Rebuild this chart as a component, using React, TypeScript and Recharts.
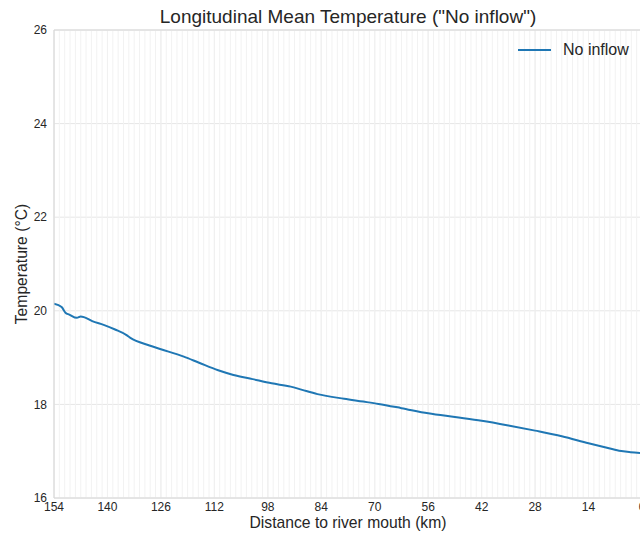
import { LineChart, Line, XAxis, YAxis, CartesianGrid, ReferenceLine } from "recharts";

// Mean temperature along the river, from the upstream end (154 km) to the mouth (0 km)
const distanceKm = [
  154, 152, 151, 150, 148, 147, 146, 144, 141, 138, 135, 134, 129, 126, 120, 116, 111, 107,
  102, 97, 92, 89, 85, 78, 73, 69, 63, 56, 49, 42, 35, 28, 21, 14, 10, 6, 3, 0,
];
const noInflowTemp = [
  20.15, 20.08, 19.96, 19.92, 19.85, 19.88, 19.86, 19.78, 19.7, 19.6, 19.48, 19.42, 19.26,
  19.18, 19.02, 18.89, 18.73, 18.63, 18.54, 18.45, 18.38, 18.31, 18.22, 18.12, 18.06, 18.01,
  17.92, 17.81, 17.73, 17.65, 17.55, 17.44, 17.32, 17.17, 17.09, 17.01, 16.98, 16.96,
];

const xTicks = [154, 140, 126, 112, 98, 84, 70, 56, 42, 28, 14, 0];
const yTicks = [16, 18, 20, 22, 24, 26];
// minor vertical grid, ten per major tick
const xMinor = Array.from({ length: 111 }, (_, i) => +(i * 1.4).toFixed(1));

const data = distanceKm.map((km, i) => ({ km, temp: noInflowTemp[i] }));

const FONT = "'Liberation Sans', Arial, sans-serif";
const TEXT = "#262626";
const LINE = "#1f77b4";

export default function App() {
  return (
    <div
      style={{
        position: "fixed",
        left: 0,
        top: 0,
        width: 640,
        height: 533,
        overflow: "hidden",
        background: "#fff",
        fontFamily: FONT,
        color: TEXT,
      }}
    >
      <LineChart width={700} height={533} data={data} margin={{ top: 30, right: 58, bottom: 0, left: 0 }}>
        {xMinor.map((v) => (
          <ReferenceLine key={v} x={v} stroke="#f2f2f2" strokeWidth={1} ifOverflow="hidden" />
        ))}
        <CartesianGrid stroke="#e6e6e6" strokeWidth={1} />
        <ReferenceLine y={26} stroke="#d6d6d6" strokeWidth={1} />
        <XAxis
          type="number"
          dataKey="km"
          domain={[0, 154]}
          reversed
          ticks={xTicks}
          interval={0}
          allowDataOverflow
          height={35}
          tickLine={false}
          tickSize={0}
          tickMargin={4}
          axisLine={{ stroke: "#d6d6d6" }}
          tick={{ fill: TEXT, fontSize: 12, fontFamily: FONT }}
        />
        <YAxis
          type="number"
          domain={[16, 26]}
          ticks={yTicks}
          interval={0}
          allowDataOverflow
          width={54}
          tickLine={false}
          tickSize={0}
          tickMargin={7}
          axisLine={{ stroke: "#d6d6d6" }}
          tick={{ fill: TEXT, fontSize: 12, fontFamily: FONT }}
        />
        <Line
          type="monotone"
          dataKey="temp"
          stroke={LINE}
          strokeWidth={2}
          dot={false}
          isAnimationActive={false}
        />
      </LineChart>

      <div
        style={{
          position: "absolute",
          left: 54,
          width: 588,
          top: 6,
          textAlign: "center",
          fontSize: 19,
          whiteSpace: "nowrap",
        }}
      >
        Longitudinal Mean Temperature ("No inflow")
      </div>

      <div
        style={{
          position: "absolute",
          left: 54,
          width: 588,
          top: 514,
          textAlign: "center",
          fontSize: 15.7,
          whiteSpace: "nowrap",
        }}
      >
        Distance to river mouth (km)
      </div>

      <div
        style={{
          position: "absolute",
          left: 22,
          top: 264,
          transform: "translate(-50%, -50%) rotate(-90deg)",
          fontSize: 15.7,
          whiteSpace: "nowrap",
        }}
      >
        Temperature (°C)
      </div>

      <div
        style={{
          position: "absolute",
          left: 518,
          top: 40,
          height: 20,
          display: "flex",
          alignItems: "center",
          fontSize: 16,
          whiteSpace: "nowrap",
        }}
      >
        <span style={{ display: "inline-block", width: 33, height: 2, background: LINE, marginRight: 12 }} />
        <span>No inflow</span>
      </div>
    </div>
  );
}
